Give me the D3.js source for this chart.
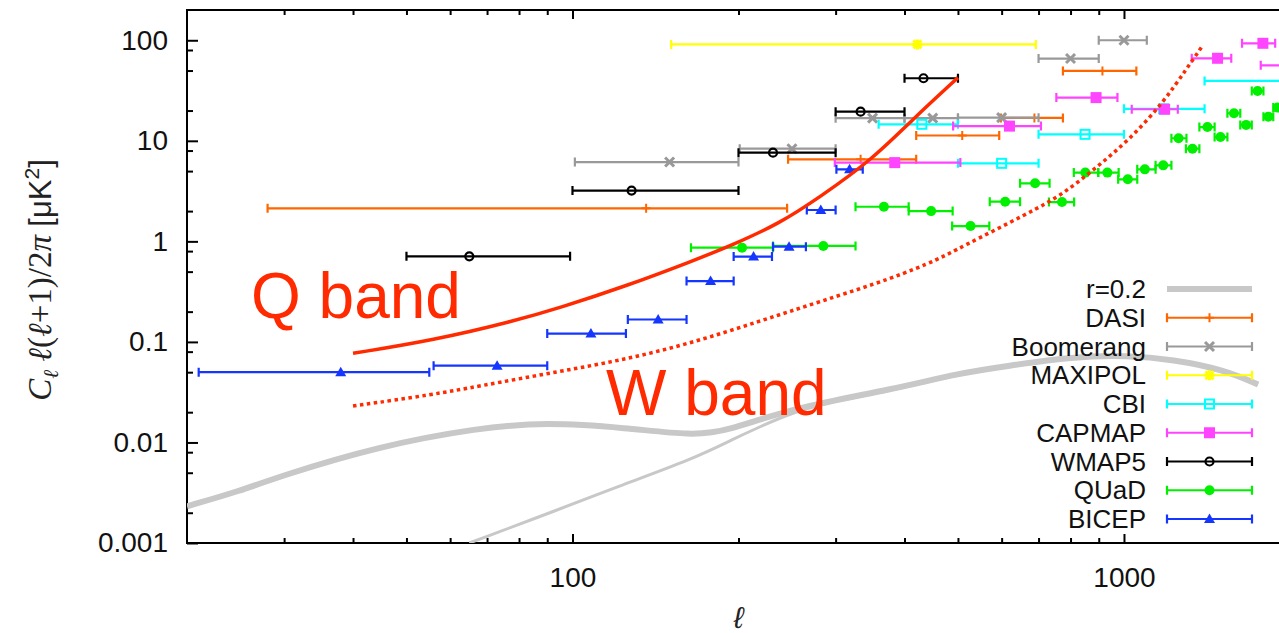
<!DOCTYPE html>
<html lang="en">
<head>
<meta charset="utf-8">
<title>CMB B-mode polarization: Q and W band</title>
<script src="https://d3js.org/d3.v7.min.js"></script>
<style>
  body { margin: 0; background: #fff; }
  text { font-family: "Liberation Sans", Arial, Helvetica, sans-serif; }
</style>
</head>
<body>
<div id="chart"></div>
<script>
// band powers: [ell_min, ell_center, ell_max, C_l l(l+1)/2pi in uK^2]
var DASI = [[28, 136, 245, 2.13], [246, 333, 420, 6.55], [420, 509, 594, 11.3], [598, 688, 775, 16.9], [775, 914, 1053, 49.6]];
var BOOMERANG = [[101, 150, 200, 6.15], [201, 250, 300, 8.35], [300, 350, 400, 16.8], [400, 450, 500, 16.8],
                 [500, 600, 700, 17.0], [700, 800, 900, 65.8], [900, 1000, 1100, 100]];
var MAXIPOL = [[151, 422, 692, 91]];
var CBI = [[359, 430, 500, 14.6], [500, 600, 700, 5.97], [700, 850, 1000, 11.6], [1000, 1180, 1400, 20.8], [1400, 2000, 2600, 39.4]];
var CAPMAP = [[299, 384, 505, 6.07], [490, 620, 707, 14.0], [754, 890, 973, 26.9], [1033, 1185, 1252, 20.6],
              [1327, 1478, 1565, 66.2], [1637, 1786, 1880, 93.3], [1770, 2000, 2300, 56.4]];
var WMAP5 = [[50, 65, 99, 0.71], [100, 128, 200, 3.2], [200, 231, 300, 7.63], [300, 333, 400, 19.5], [400, 433, 500, 41.9]];
var QUAD = [[164, 203, 231, 0.865], [231, 285, 326, 0.90], [326, 367, 407, 2.21], [407, 447, 489, 2.0], [488, 527, 570, 1.42],
            [571, 609, 648, 2.48], [648, 690, 733, 3.78], [731, 772, 812, 2.46], [811, 851, 898, 4.83], [898, 933, 978, 4.83],
            [976, 1016, 1057, 4.14], [1057, 1091, 1141, 5.2], [1141, 1178, 1219, 5.7], [1219, 1256, 1298, 10.6],
            [1295, 1331, 1370, 8.35], [1370, 1417, 1460, 13.7], [1460, 1496, 1540, 10.9], [1540, 1583, 1625, 18.8],
            [1625, 1665, 1705, 14.4], [1705, 1747, 1790, 31.3], [1790, 1827, 1865, 17.4], [1865, 1899, 1940, 21.4]];
var BICEP = [[21, 38, 55, 0.050], [56, 73, 90, 0.058], [90, 108, 125, 0.121], [126, 143, 161, 0.167], [161, 178, 196, 0.403],
             [196, 213, 230, 0.705], [231, 247, 265, 0.885], [266, 282, 300, 2.05], [301, 318, 336, 5.2]];

var seriesNames = ["DASI", "Boomerang", "MAXIPOL", "CBI", "CAPMAP", "WMAP5", "QUaD", "BICEP"];
var seriesData = [DASI, BOOMERANG, MAXIPOL, CBI, CAPMAP, WMAP5, QUAD, BICEP];
var seriesColors = ["#ff6600", "#999999", "#ffff00", "#00ffff", "#ff44ff", "#000000", "#00f000", "#1436ff"];
var seriesSymbols = ["plus", "cross", "star", "box", "boxf", "circ", "circf", "tri"];

// noise curves
var qBandEll = [40, 56, 78, 95, 125, 165, 195, 237, 280, 350, 414, 500];
var qBandCl = [0.077, 0.104, 0.160, 0.219, 0.359, 0.637, 0.92, 1.50, 2.72, 6.55, 16.4, 42.5];
var wBandEll = [40, 56, 67, 95, 125, 165, 218, 280, 381, 463, 503, 674, 775, 890, 1024, 1178, 1297, 1385];
var wBandCl = [0.023, 0.030, 0.036, 0.051, 0.067, 0.098, 0.16, 0.25, 0.43, 0.67, 0.86, 1.93, 2.94, 5.4, 10.3, 24, 51.5, 86.6];

// theory: r=0.2 (thick) and lensing (thin)
var r02Ell = [20, 25, 29.4, 44.6, 67.7, 89.5, 125, 165, 190, 251, 381, 503, 612, 808, 1010, 1228, 1515, 1750];
var r02Cl = [0.00232, 0.0033, 0.0046, 0.0092, 0.014, 0.0159, 0.014, 0.0117, 0.0129, 0.0221, 0.0337, 0.049, 0.0575, 0.0713, 0.0734, 0.067, 0.053, 0.0378];
var lensEll = [65, 95, 120, 165, 197, 218, 251, 300, 381, 503, 612, 808, 1010, 1228, 1515, 1750];
var lensCl = [0.001, 0.00218, 0.0036, 0.0068, 0.0110, 0.0142, 0.0200, 0.026, 0.0330, 0.048, 0.0565, 0.0705, 0.0728, 0.0665, 0.0527, 0.0376];

var xMajor = [100, 1000];
var xLabels = ["100", "1000"];
var yMajor = [0.001, 0.01, 0.1, 1, 10, 100];
var yLabels = ["0.001", "0.01", "0.1", "1", "10", "100"];

var Width = 1279, Height = 633;
var L = 187, R = 1290, T = 10, B = 543;
var red = "#ff2a00", gray = "#c8c8c8";

var svg = d3.select("#chart").append("svg")
    .attr("width", Width)
    .attr("height", Height);

var x = d3.scaleLog().domain([20, 2000]).range([L, R]);
var y = d3.scaleLog().domain([0.001, 200]).range([B, T]);

svg.append("clipPath").attr("id", "plotclip")
    .append("rect").attr("x", L).attr("y", T).attr("width", R - L).attr("height", B - T);

// minor tick values
var xMinor = [], yMinor = [];
[10, 100, 1000].forEach(function(d) {
    for (var k = 2; k <= 9; k++) if (k * d > 20 && k * d <= 2000 && k * d !== 1000) xMinor.push(k * d);
});
[0.001, 0.01, 0.1, 1, 10, 100].forEach(function(d) {
    [2, 5, 8].forEach(function(k) { if (k * d < 200) yMinor.push(k * d); });
});

function styleAxis(g) {
    g.select(".domain").remove();
    g.selectAll("line").attr("stroke", "#000").attr("stroke-width", 2);
    g.selectAll("text").attr("font-size", 28).attr("fill", "#111")
        .attr("font-family", "'Liberation Sans', Arial, sans-serif");
}

svg.append("g").attr("transform", "translate(" + L + ",0)")
    .call(d3.axisLeft(y).tickValues(yMajor).tickFormat(function(d, i) { return yLabels[i]; })
        .tickSizeInner(-11).tickSizeOuter(0).tickPadding(19))
    .call(styleAxis);
svg.append("g").attr("transform", "translate(" + L + ",0)")
    .call(d3.axisLeft(y).tickValues(yMinor).tickFormat("").tickSizeInner(-6).tickSizeOuter(0))
    .call(styleAxis);

svg.append("g").attr("transform", "translate(0," + B + ")")
    .call(d3.axisBottom(x).tickValues(xMajor).tickFormat(function(d, i) { return xLabels[i]; })
        .tickSizeInner(-9).tickSizeOuter(0).tickPadding(24))
    .call(styleAxis);
svg.append("g").attr("transform", "translate(0," + B + ")")
    .call(d3.axisBottom(x).tickValues(xMinor).tickFormat("").tickSizeInner(-5).tickSizeOuter(0))
    .call(styleAxis);
svg.append("g").attr("transform", "translate(0," + T + ")")
    .call(d3.axisTop(x).tickValues(xMajor).tickFormat("").tickSizeInner(-9).tickSizeOuter(0))
    .call(styleAxis);
svg.append("g").attr("transform", "translate(0," + T + ")")
    .call(d3.axisTop(x).tickValues(xMinor).tickFormat("").tickSizeInner(-5).tickSizeOuter(0))
    .call(styleAxis);

// frame
svg.append("path")
    .attr("d", "M" + R + "," + T + "H" + L + "V" + B + "H" + R)
    .attr("fill", "none").attr("stroke", "#000").attr("stroke-width", 2);

var plot = svg.append("g").attr("clip-path", "url(#plotclip)");

var line = d3.line()
    .x(function(d) { return x(d[0]); })
    .y(function(d) { return y(d[1]); })
    .curve(d3.curveBasis);

function pairs(a, b) { return a.map(function(v, i) { return [v, b[i]]; }); }

// theory curves
plot.append("path").datum(pairs(lensEll, lensCl)).attr("d", line)
    .attr("fill", "none").attr("stroke", gray).attr("stroke-width", 3);
plot.append("path").datum(pairs(r02Ell, r02Cl)).attr("d", line)
    .attr("fill", "none").attr("stroke", gray).attr("stroke-width", 6);

function drawSymbol(s, kind, color) {
    if (kind === "plus") {
        s.append("path").attr("d", "M0,-4.5V4.5M-4.5,0H4.5").attr("stroke", color).attr("stroke-width", 2);
    } else if (kind === "cross") {
        s.append("path").attr("d", "M-4.5,-4.5L4.5,4.5M-4.5,4.5L4.5,-4.5").attr("stroke", color).attr("stroke-width", 3);
    } else if (kind === "star") {
        s.append("path").attr("d", "M0,-5V5M-5,0H5M-4,-4L4,4M-4,4L4,-4").attr("stroke", color).attr("stroke-width", 3);
    } else if (kind === "box") {
        s.append("rect").attr("x", -4.5).attr("y", -4.5).attr("width", 9).attr("height", 9)
            .attr("fill", "none").attr("stroke", color).attr("stroke-width", 2);
    } else if (kind === "boxf") {
        s.append("rect").attr("x", -5.5).attr("y", -5.5).attr("width", 11).attr("height", 11).attr("fill", color);
    } else if (kind === "circ") {
        s.append("circle").attr("r", 4).attr("fill", "none").attr("stroke", color).attr("stroke-width", 2.2);
    } else if (kind === "circf") {
        s.append("circle").attr("r", 5).attr("fill", color);
    } else if (kind === "tri") {
        s.append("path").attr("d", "M0,-5.5L5.5,4L-5.5,4Z").attr("fill", color);
    }
}

function errorBar(s, x0, x1, yy, color) {
    s.append("path")
        .attr("d", "M" + x0 + "," + yy + "H" + x1 + "M" + x0 + "," + (yy - 4.5) + "V" + (yy + 4.5) +
              "M" + x1 + "," + (yy - 4.5) + "V" + (yy + 4.5))
        .attr("fill", "none").attr("stroke", color).attr("stroke-width", 2.2);
}

// data points
seriesData.forEach(function(data, si) {
    var gs = plot.append("g").attr("class", "series");
    data.forEach(function(d) {
        errorBar(gs, x(d[0]), x(d[2]), y(d[3]), seriesColors[si]);
        var m = gs.append("g").attr("transform", "translate(" + x(d[1]) + "," + y(d[3]) + ")");
        drawSymbol(m, seriesSymbols[si], seriesColors[si]);
    });
});

// noise curves
plot.append("path").datum(pairs(qBandEll, qBandCl)).attr("d", line)
    .attr("fill", "none").attr("stroke", red).attr("stroke-width", 3.5);
plot.append("path").datum(pairs(wBandEll, wBandCl)).attr("d", line)
    .attr("fill", "none").attr("stroke", red).attr("stroke-width", 3.5).attr("stroke-dasharray", "3.5,3.5");

svg.append("text").attr("x", 251).attr("y", 318).attr("font-size", 64).attr("fill", red).text("Q band");
svg.append("text").attr("x", 606).attr("y", 415).attr("font-size", 64).attr("fill", red).text("W band");

// legend
var legY0 = 289, legStep = 28.75;
var leg = svg.append("g");
var r0 = leg.append("g").attr("transform", "translate(0," + legY0 + ")");
r0.append("text").attr("x", 1146).attr("y", 9).attr("text-anchor", "end").attr("font-size", 26).attr("fill", "#111").text("r=0.2");
r0.append("line").attr("x1", 1167).attr("x2", 1252).attr("stroke", gray).attr("stroke-width", 6);

seriesNames.forEach(function(name, i) {
    var row = leg.append("g").attr("transform", "translate(0," + (legY0 + (i + 1) * legStep) + ")");
    row.append("text").attr("x", 1146).attr("y", 9).attr("text-anchor", "end")
        .attr("font-size", 26).attr("fill", "#111").text(name);
    errorBar(row, 1167, 1252, 0, seriesColors[i]);
    var m = row.append("g").attr("transform", "translate(1209.5,0)");
    drawSymbol(m, seriesSymbols[i], seriesColors[i]);
});

// axis titles
var ylab = svg.append("text")
    .attr("transform", "translate(51,280) rotate(-90)")
    .attr("text-anchor", "middle")
    .attr("font-size", 33)
    .attr("fill", "#222");
ylab.append("tspan").attr("font-family", "'Liberation Serif', serif").attr("font-style", "italic").text("C");
ylab.append("tspan").attr("font-family", "'Liberation Serif', serif").attr("font-style", "italic")
    .attr("font-size", 21).attr("dy", 7).text("\u2113");
ylab.append("tspan").attr("font-family", "'Liberation Serif', serif").attr("font-style", "italic")
    .attr("dy", -7).text(" \u2113");
ylab.append("tspan").attr("font-family", "'Liberation Serif', serif").text("(");
ylab.append("tspan").attr("font-family", "'Liberation Serif', serif").attr("font-style", "italic").text("\u2113");
ylab.append("tspan").attr("font-family", "'Liberation Serif', serif").text("+1)/2");
ylab.append("tspan").attr("font-family", "'Liberation Serif', serif").attr("font-style", "italic").text("\u03c0 ");
ylab.append("tspan").attr("font-size", 31).text("[\u03bcK");
ylab.append("tspan").attr("font-size", 21).attr("dy", -12).text("2");
ylab.append("tspan").attr("font-size", 31).attr("dy", 12).text("]");

svg.append("text")
    .attr("x", (L + R) / 2).attr("y", 628)
    .attr("text-anchor", "middle")
    .attr("font-family", "'Liberation Serif', serif")
    .attr("font-style", "italic")
    .attr("font-size", 30)
    .attr("fill", "#222")
    .text("\u2113");
</script>
</body>
</html>
